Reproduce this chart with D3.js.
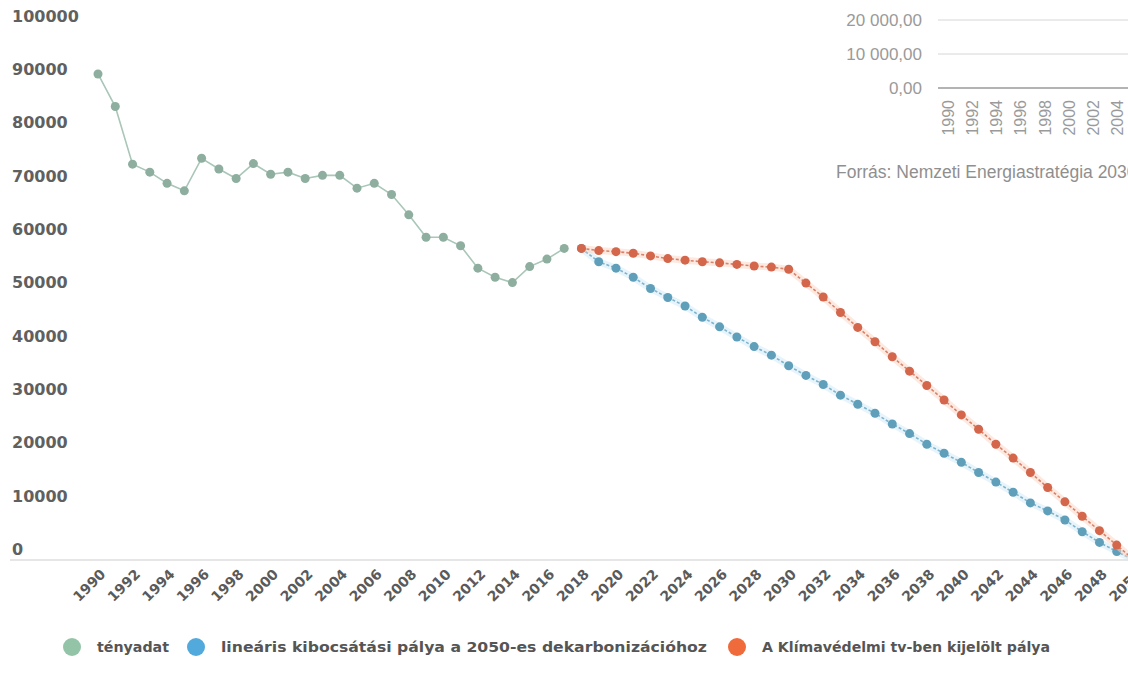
<!DOCTYPE html>
<html>
<head>
<meta charset="utf-8">
<script src="https://cdn.jsdelivr.net/npm/d3@7"></script>
<style>
  body { margin: 0; background: #fff; overflow: hidden; }
  svg { display: block; }
</style>
</head>
<body>
<svg id="chart" width="1128" height="680"></svg>
<script>
// Kibocsátás (kt CO2e) – tényadat 1990–2017
const actualStart = 1990;
const actualValues = [
  91100, 85000, 74200, 72700, 70600, 69200, 75300, 73300, 71500, 74300,
  72300, 72700, 71500, 72100, 72100, 69700, 70600, 68500, 64700, 60500,
  60500, 58900, 54700, 53000, 52000, 55000, 56400, 58400
];

// Pályák 2018–2050
const pathStart = 2018;
const linearPath = [
  58400, 55900, 54700, 53000, 50900, 49200, 47600, 45500, 43700, 41800,
  40000, 38400, 36400, 34600, 32900, 30900, 29200, 27500, 25500, 23700,
  21700, 20000, 18300, 16400, 14600, 12700, 10700, 9200, 7500, 5300,
  3300, 1600, 0
];
const climateLawPath = [
  58400, 58000, 57800, 57500, 57000, 56500, 56200, 55900, 55700, 55400,
  55100, 54900, 54500, 51900, 49300, 46400, 43600, 40900, 38100, 35400,
  32700, 30000, 27200, 24500, 21700, 19100, 16400, 13600, 10900, 8200,
  5500, 2800, 0
];

const yTickValues = [0, 10000, 20000, 30000, 40000, 50000, 60000, 70000, 80000, 90000, 100000];
const xTickYears = [1990, 1992, 1994, 1996, 1998, 2000, 2002, 2004, 2006, 2008,
  2010, 2012, 2014, 2016, 2018, 2020, 2022, 2024, 2026, 2028, 2030, 2032,
  2034, 2036, 2038, 2040, 2042, 2044, 2046, 2048, 2050];

const seriesNames = [
  "tényadat",
  "lineáris kibocsátási pálya a 2050-es dekarbonizációhoz",
  "A Klímavédelmi tv-ben kijelölt pálya"
];

// Háttérben látszó másik diagram részlete
const insetTickValues = [0, 10000, 20000];
const insetTickLabels = ["0,00", "10 000,00", "20 000,00"];
const insetYears = ["1990", "1992", "1994", "1996", "1998", "2000", "2002", "2004"];
const sourceNote = "Forrás: Nemzeti Energiastratégia 2030";

const toPoints = (start, values) => values.map((v, i) => ({ year: start + i, value: v }));
const actual = toPoints(actualStart, actualValues);
const linear = toPoints(pathStart, linearPath);
const climate = toPoints(pathStart, climateLawPath);

const svg = d3.select("#chart");
const x = d3.scaleLinear().domain([1990, 2050]).range([98, 1134]);
const y = d3.scaleLinear().domain([0, 100000]).range([560, 26.5]);

const axisFont = "'DejaVu Sans', Verdana, sans-serif";

// ---- inset fragment (top right) ----
const inset = svg.append("g").attr("class", "inset");
const iy = d3.scaleLinear().domain([0, 20000]).range([88, 20]);
const ix = d3.scalePoint().domain(insetYears).range([948, 1117]);
inset.selectAll("line.grid").data(insetTickValues).join("line")
  .attr("class", "grid")
  .attr("x1", 938).attr("x2", 1128)
  .attr("y1", d => iy(d)).attr("y2", d => iy(d))
  .attr("stroke", d => d === 0 ? "#9a9a9a" : "#d6d6d6")
  .attr("stroke-width", d => d === 0 ? 1.5 : 1);
inset.selectAll("text.ylab").data(insetTickValues).join("text")
  .attr("class", "ylab")
  .attr("x", 922).attr("y", d => iy(d))
  .attr("dy", "0.35em")
  .attr("text-anchor", "end")
  .attr("font-family", "'Liberation Sans', Arial, sans-serif")
  .attr("font-size", 17).attr("fill", "#9a9a9a")
  .text((d, i) => insetTickLabels[i]);
inset.selectAll("text.xlab").data(insetYears).join("text")
  .attr("class", "xlab")
  .attr("transform", d => `translate(${ix(d) + 6},100) rotate(-90)`)
  .attr("text-anchor", "end")
  .attr("font-family", "'Liberation Sans', Arial, sans-serif")
  .attr("font-size", 16).attr("fill", "#9a9a9a")
  .text(d => d);
inset.append("text")
  .attr("x", 836).attr("y", 178)
  .attr("font-family", "'Liberation Sans', Arial, sans-serif")
  .attr("font-size", 17.5).attr("fill", "#8f8f8f")
  .text(sourceNote);

// ---- axes ----
svg.append("line")
  .attr("x1", 10).attr("x2", 1128)
  .attr("y1", y(0)).attr("y2", y(0))
  .attr("stroke", "#dedede").attr("stroke-width", 1.5);

const yAxis = svg.append("g")
  .call(d3.axisLeft(y).tickValues(yTickValues).tickSize(0).tickFormat(d3.format("d")));
yAxis.select(".domain").remove();
yAxis.selectAll("text")
  .attr("x", 12).attr("y", -11).attr("dy", "0.35em")
  .attr("text-anchor", "start")
  .attr("font-family", axisFont).attr("font-size", 16)
  .attr("font-weight", "bold").attr("fill", "#606060");

const xAxis = svg.append("g")
  .attr("transform", `translate(0,${y(0)})`)
  .call(d3.axisBottom(x).tickValues(xTickYears).tickSize(0).tickFormat(d3.format("d")));
xAxis.select(".domain").remove();
xAxis.selectAll("text")
  .attr("x", 0).attr("y", 0).attr("dy", 0)
  .attr("transform", "translate(8,15) rotate(-45)")
  .attr("text-anchor", "end")
  .attr("font-family", axisFont).attr("font-size", 14)
  .attr("font-weight", "bold").attr("fill", "#5a5a5a");

// ---- series ----
const line = d3.line().x(d => x(d.year)).y(d => y(d.value));

function drawSeries(data, cfg) {
  const g = svg.append("g");
  if (cfg.halo) {
    g.append("path").datum(data).attr("d", line)
      .attr("fill", "none").attr("stroke", cfg.halo)
      .attr("stroke-width", 7).attr("stroke-linejoin", "round").attr("opacity", 0.5);
  }
  g.append("path").datum(data).attr("d", line)
    .attr("fill", "none").attr("stroke", cfg.line)
    .attr("stroke-width", 1.6)
    .attr("stroke-dasharray", cfg.dash || null);
  g.selectAll("circle").data(data).join("circle")
    .attr("cx", d => x(d.year)).attr("cy", d => y(d.value))
    .attr("r", 4.5).attr("fill", cfg.point);
}

drawSeries(actual, { line: "#a9c6b8", point: "#8eae9f" });
drawSeries(linear, { line: "#7fb5cc", point: "#5f9fba", halo: "#cfeaf8", dash: "3,2" });
drawSeries(climate, { line: "#d9826a", point: "#d3664b", halo: "#fcd3c1", dash: "3,2" });

// ---- legend ----
const legendColors = ["#94c4a8", "#52a9dc", "#f06b3b"];
const legendX = [72, 196, 737];
const legendWidths = [72, 486, 288];
const legend = svg.append("g").attr("class", "legend");
seriesNames.forEach((name, i) => {
  legend.append("circle")
    .attr("cx", legendX[i]).attr("cy", 647).attr("r", 9)
    .attr("fill", legendColors[i]);
  legend.append("text")
    .attr("x", legendX[i] + 25).attr("y", 647).attr("dy", "0.35em")
    .attr("font-family", axisFont).attr("font-size", 14)
    .attr("font-weight", "bold").attr("fill", "#555")
    .attr("textLength", legendWidths[i])
    .attr("lengthAdjust", "spacingAndGlyphs")
    .text(name);
});
</script>
</body>
</html>
